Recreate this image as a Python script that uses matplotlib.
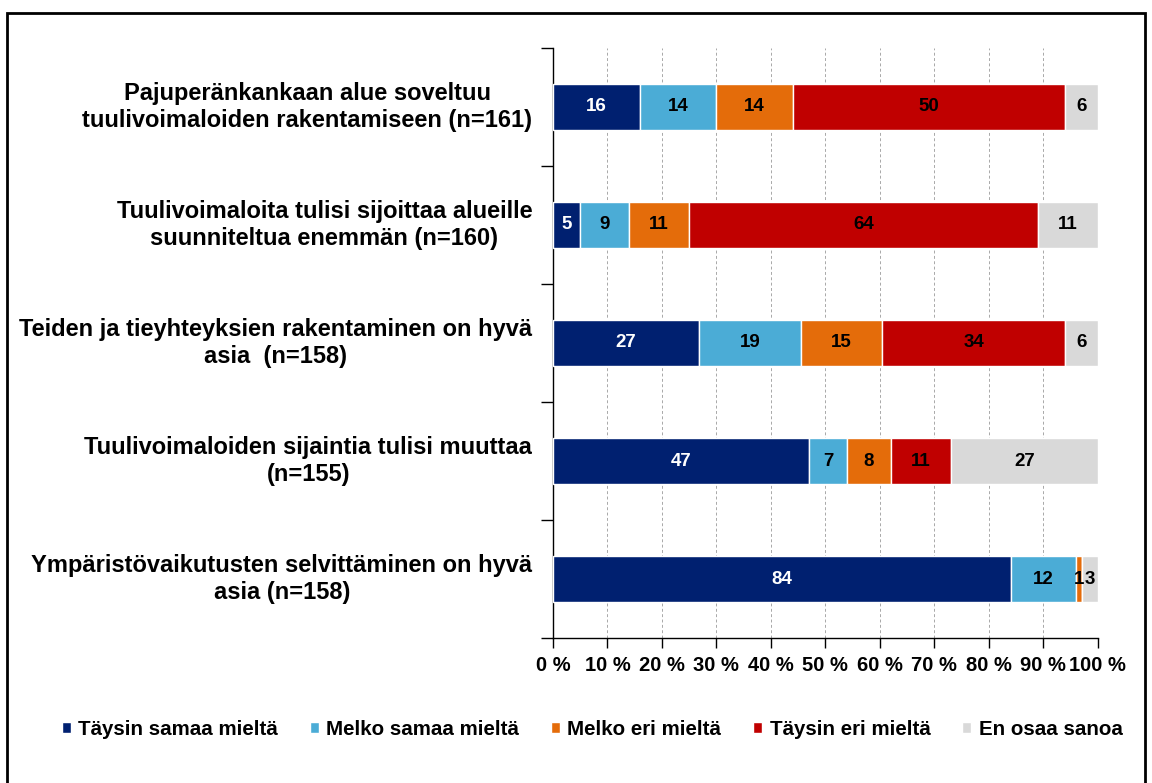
import matplotlib
matplotlib.use('Agg')
import matplotlib.pyplot as plt
import numpy as np
from matplotlib.patches import Rectangle

plt.rcParams['font.family'] = ['Liberation Sans', 'DejaVu Sans']
plt.rcParams['font.weight'] = 'bold'

questions = [
    'Pajuperänkankaan alue soveltuu\ntuulivoimaloiden rakentamiseen (n=161)',
    'Tuulivoimaloita tulisi sijoittaa alueille\nsuunniteltua enemmän (n=160)',
    'Teiden ja tieyhteyksien rakentaminen on hyvä\nasia  (n=158)',
    'Tuulivoimaloiden sijaintia tulisi muuttaa\n(n=155)',
    'Ympäristövaikutusten selvittäminen on hyvä\nasia (n=158)',
]
series = ['Täysin samaa mieltä', 'Melko samaa mieltä', 'Melko eri mieltä',
          'Täysin eri mieltä', 'En osaa sanoa']
taysin_samaa = [16, 5, 27, 47, 84]
melko_samaa = [14, 9, 19, 7, 12]
melko_eri = [14, 11, 15, 8, 1]
taysin_eri = [50, 64, 34, 11, 0]
en_osaa = [6, 11, 6, 27, 3]
colors = ['#002070', '#4bacd6', '#e46c0a', '#c00000', '#d9d9d9']
text_colors = ['white', 'black', 'black', 'black', 'black']

vals = np.array([taysin_samaa, melko_samaa, melko_eri, taysin_eri, en_osaa], dtype=float)
pct = vals / vals.sum(axis=0) * 100

f = plt.figure(figsize=(11.52, 7.83), dpi=100)
ax = f.add_axes([0.480, 0.185, 0.473, 0.754])

y = np.arange(len(questions))
left = np.zeros(len(questions))
for i in range(len(series)):
    ax.barh(y, pct[i], left=left, height=0.39, color=colors[i],
            edgecolor='white', linewidth=1, label=series[i], zorder=3)
    for j in range(len(questions)):
        if vals[i, j] > 0:
            ax.text(left[j] + pct[i, j] / 2, y[j], f'{int(vals[i, j])}',
                    ha='center', va='center', fontsize=13.5, fontweight='bold',
                    color=text_colors[i], zorder=4)
    left += pct[i]

ax.set_xlim(0, 100)
ax.set_ylim(len(questions) - 0.5, -0.5)
ax.set_xticks(np.arange(0, 101, 10))
ax.set_xticklabels([f'{t} %' for t in range(0, 101, 10)], fontsize=14.5, fontweight='bold')
ax.set_yticks(np.arange(-0.5, len(questions), 1))
ax.set_yticklabels([])
ax.tick_params(axis='y', length=9, width=1, direction='out')
ax.tick_params(axis='x', length=7, width=1, direction='out', pad=6)
ax.xaxis.grid(True, linestyle=(0, (3, 2.5)), color='#a8a8a8', linewidth=0.7, zorder=0)
ax.set_axisbelow(True)
for s in ['top', 'right']:
    ax.spines[s].set_visible(False)
ax.spines['left'].set_linewidth(1)
ax.spines['bottom'].set_linewidth(1)

for j, q in enumerate(questions):
    ax.text(-0.038, y[j], q, transform=ax.get_yaxis_transform(), ha='right', va='center',
            multialignment='center', fontsize=17, fontweight='bold', linespacing=1.2)

handles, labels = ax.get_legend_handles_labels()
f.legend(handles, labels, loc='center', bbox_to_anchor=(0.514, 0.068), ncol=5, frameon=False,
         handlelength=0.45, handleheight=0.45, handletextpad=0.35,
         columnspacing=1.55, prop={'weight': 'bold', 'size': 14.8})

f.patches.append(Rectangle((0.006, -0.02), 0.988, 1.004, transform=f.transFigure,
                           fill=False, edgecolor='black', linewidth=2))

f.savefig('out.png', dpi=100)
